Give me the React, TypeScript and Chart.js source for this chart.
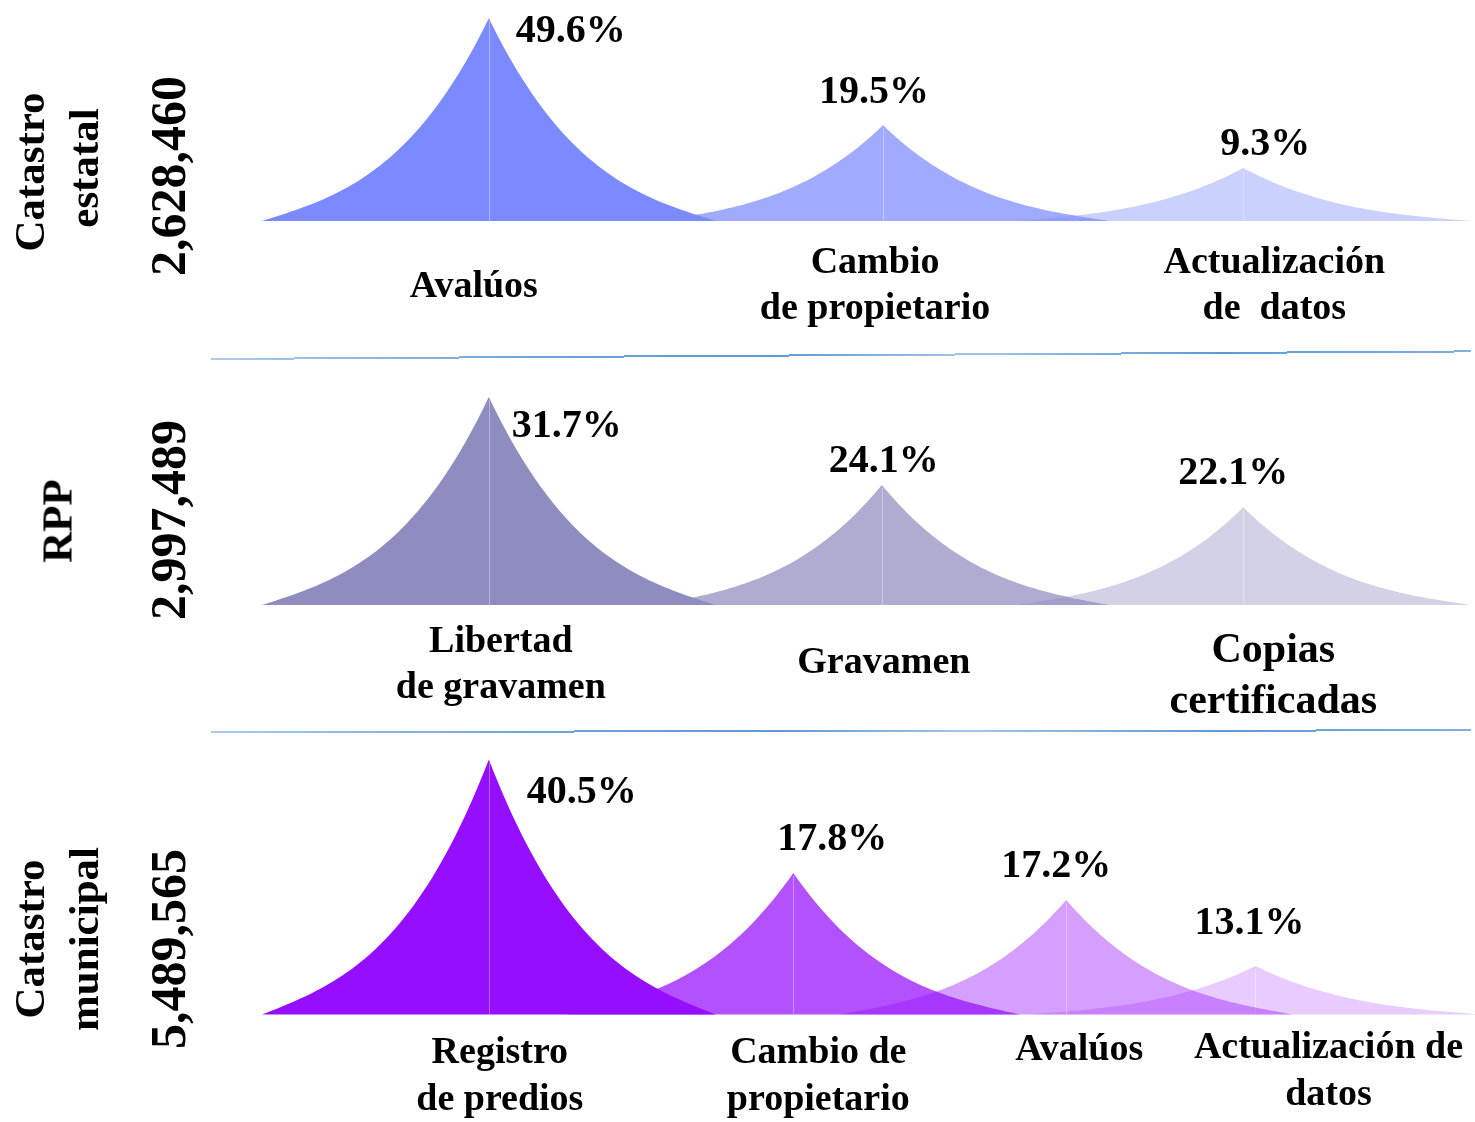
import React, { useEffect, useRef } from "react";
import { Chart, registerables } from "chart.js";

Chart.register(...registerables);

// ---------------- data ----------------
// Panel 1: Catastro estatal
const estatalTitle = ["Catastro", "estatal"];
const estatalTotal = "2,628,460";
const estatalCategories = [["Avalúos"], ["Cambio", "de propietario"], ["Actualización", "de  datos"]];
const estatalShares = [49.6, 19.5, 9.3];
const estatalHeights = [79.5, 37.6, 20.8]; // drawn peak heights (index, 100 = tallest peak)
const estatalPositions = [18.7, 51.2, 80.9]; // peak centres along the band (0–100)

// Panel 2: RPP
const rppTitle = ["RPP"];
const rppTotal = "2,997,489";
const rppCategories = [["Libertad", "de gravamen"], ["Gravamen"], ["Copias", "certificadas"]];
const rppShares = [31.7, 24.1, 22.1];
const rppHeights = [81.6, 47.1, 38.3];
const rppPositions = [18.7, 51.1, 80.9];

// Panel 3: Catastro municipal
const municipalTitle = ["Catastro", "municipal"];
const municipalTotal = "5,489,565";
const municipalCategories = [["Registro", "de predios"], ["Cambio de", "propietario"], ["Avalúos"], ["Actualización de", "datos"]];
const municipalShares = [40.5, 17.8, 17.2, 13.1];
const municipalHeights = [100, 55.5, 44.9, 19.0];
const municipalPositions = [18.7, 43.8, 66.3, 81.9];

// ---------------- layout / style ----------------
const FONT = '"Liberation Serif", "Times New Roman", serif';
const PAGE_W = 1475;
const PAGE_H = 1122;
const PLOT_LEFT = 262;
const Y_SPAN_PX = 255; // pixel height of 100 y-units
const PEAK_HALF_WIDTH = 18.7; // in x units
const PEAK_STEPS = 48; // smoothness of the concave peak sides

type PanelLayout = {
  top: number;
  height: number;
  baseline: number; // page y of baseline
  rgb: [number, number, number];
  alphas: number[];
  pctOffsets: [number, number][];
  pctSize: number;
  labelDx: number[];
  labelDy: number[];
  labelGap: number[];
  labelSize: number[];
};

const estatalLayout: PanelLayout = {
  top: -40,
  height: 385,
  baseline: 221,
  rgb: [123, 139, 255],
  alphas: [1, 0.72, 0.4],
  pctOffsets: [[82, 24], [-9, -22], [22, -13]],
  pctSize: 40,
  labelDx: [-15, -8, 31],
  labelDy: [76, 52, 52],
  labelGap: [46, 46, 46],
  labelSize: [38, 38, 38],
};

const rppLayout: PanelLayout = {
  top: 340,
  height: 390,
  baseline: 605,
  rgb: [143, 140, 191],
  alphas: [1, 0.72, 0.4],
  pctOffsets: [[78, 40], [2, -13], [-10, -23]],
  pctSize: 40,
  labelDx: [12, 2, 30],
  labelDy: [47, 68, 57],
  labelGap: [46, 46, 51],
  labelSize: [38, 38, 42],
};

const municipalLayout: PanelLayout = {
  top: 735,
  height: 387,
  baseline: 1014.5,
  rgb: [149, 14, 255],
  alphas: [1, 0.72, 0.4, 0.21],
  pctOffsets: [[93, 43], [39, -23], [-10, -23], [-6, -32]],
  pctSize: 40,
  labelDx: [11, 25, 13, 73],
  labelDy: [48, 48, 45, 43],
  labelGap: [47, 47, 47, 47],
  labelSize: [38, 38, 38, 38],
};

// profile of a peak side: f = 0 at the base edge, 1 at the tip
const sideProfile = (f: number) => 0.35 * f + 0.65 * f * f * f;

type PanelProps = {
  categories: string[][];
  shares: number[];
  heights: number[];
  positions: number[];
  layout: PanelLayout;
};

function PeakPanel({ categories, shares, heights, positions, layout }: PanelProps) {
  const ref = useRef<HTMLCanvasElement | null>(null);

  useEffect(() => {
    if (!ref.current) return;
    const baseLocal = layout.baseline - layout.top;
    const colors = layout.alphas.map(
      (a) => `rgba(${layout.rgb[0]},${layout.rgb[1]},${layout.rgb[2]},${a})`
    );

    const peakPlugin = {
      id: "peakShapes",
      beforeDatasetDraw(chart: any, args: any) {
        const ctx = chart.ctx as CanvasRenderingContext2D;
        const xs = chart.scales.x;
        const ds = chart.data.datasets[args.index];
        const els = args.meta.data;
        ctx.save();
        for (let i = els.length - 1; i >= 0; i--) {
          const el = els[i];
          const raw = ds.data[i];
          const x = el.x;
          const y = el.y;
          const b = el.base;
          const hw = xs.getPixelForValue(raw.x + PEAK_HALF_WIDTH) - x;
          const h = b - y;
          ctx.beginPath();
          ctx.moveTo(x - hw, b);
          for (let s = 1; s <= PEAK_STEPS; s++) {
            const f = s / PEAK_STEPS;
            ctx.lineTo(x - hw * (1 - f), b - h * sideProfile(f));
          }
          for (let s = PEAK_STEPS - 1; s >= 0; s--) {
            const f = s / PEAK_STEPS;
            ctx.lineTo(x + hw * (1 - f), b - h * sideProfile(f));
          }
          ctx.closePath();
          ctx.fillStyle = el.options.backgroundColor;
          ctx.fill();
          ctx.beginPath();
          ctx.moveTo(Math.round(x) + 0.5, y + 3);
          ctx.lineTo(Math.round(x) + 0.5, b);
          ctx.strokeStyle = "rgba(255,255,255,0.35)";
          ctx.lineWidth = 1;
          ctx.stroke();
        }
        ctx.restore();
        return false;
      },
      afterDraw(chart: any) {
        const ctx = chart.ctx as CanvasRenderingContext2D;
        const meta = chart.getDatasetMeta(0);
        ctx.save();
        ctx.fillStyle = "#000";
        ctx.textAlign = "center";
        ctx.textBaseline = "alphabetic";
        meta.data.forEach((el: any, i: number) => {
          ctx.font = `bold ${layout.pctSize}px ${FONT}`;
          const [dx, dy] = layout.pctOffsets[i];
          ctx.fillText(`${shares[i].toFixed(1)}%`, el.x + dx, el.y + dy);
          ctx.font = `bold ${layout.labelSize[i]}px ${FONT}`;
          categories[i].forEach((line, k) => {
            ctx.fillText(line, el.x + layout.labelDx[i], el.base + layout.labelDy[i] + k * layout.labelGap[i]);
          });
        });
        ctx.restore();
      },
    };

    const chart = new Chart(ref.current, {
      type: "bar",
      data: {
        datasets: [
          {
            data: positions.map((p, i) => ({ x: p, y: heights[i] })),
            backgroundColor: colors,
          },
        ],
      },
      options: {
        responsive: false,
        maintainAspectRatio: false,
        animation: false,
        events: [],
        layout: {
          padding: {
            left: PLOT_LEFT,
            right: 0,
            top: baseLocal - Y_SPAN_PX,
            bottom: layout.height - baseLocal,
          },
        },
        scales: {
          x: { type: "linear", min: 0, max: 100, offset: false, display: false },
          y: { type: "linear", min: 0, max: 100, display: false },
        },
        plugins: {
          legend: { display: false },
          tooltip: { enabled: false },
        },
      },
      plugins: [peakPlugin],
    } as any);
    return () => chart.destroy();
  }, [categories, shares, heights, positions, layout]);

  return (
    <canvas
      ref={ref}
      width={PAGE_W}
      height={layout.height}
      style={{ position: "absolute", left: 0, top: layout.top, width: PAGE_W, height: layout.height }}
    />
  );
}

function SideText({ text, cx, cy, size }: { text: string; cx: number; cy: number; size: number }) {
  return (
    <div
      style={{
        position: "absolute",
        left: cx,
        top: cy,
        transform: "translate(-50%, -50%) rotate(-90deg)",
        font: `bold ${size}px ${FONT}`,
        lineHeight: `${size}px`,
        whiteSpace: "pre",
        color: "#000",
      }}
    >
      {text}
    </div>
  );
}

function Separator({ x1, y1, x2, y2 }: { x1: number; y1: number; x2: number; y2: number }) {
  const len = Math.hypot(x2 - x1, y2 - y1);
  const ang = (Math.atan2(y2 - y1, x2 - x1) * 180) / Math.PI;
  return (
    <div
      style={{
        position: "absolute",
        left: x1,
        top: y1 - 1,
        width: len,
        height: 2,
        background: "linear-gradient(90deg, #a9cbec 0%, #6fa5da 25%, #5b9bd5 45%, #a3c6ea 60%, #5b9bd5 80%, #7fb0e0 100%)",
        transformOrigin: "0 50%",
        transform: `rotate(${ang}deg)`,
        zIndex: 2,
      }}
    />
  );
}

export default function App() {
  return (
    <div
      style={{
        position: "absolute",
        left: 0,
        top: 0,
        width: PAGE_W,
        height: PAGE_H,
        overflow: "hidden",
        background: "#fff",
      }}
    >
      <PeakPanel
        categories={estatalCategories}
        shares={estatalShares}
        heights={estatalHeights}
        positions={estatalPositions}
        layout={estatalLayout}
      />
      <PeakPanel
        categories={rppCategories}
        shares={rppShares}
        heights={rppHeights}
        positions={rppPositions}
        layout={rppLayout}
      />
      <PeakPanel
        categories={municipalCategories}
        shares={municipalShares}
        heights={municipalHeights}
        positions={municipalPositions}
        layout={municipalLayout}
      />

      <SideText text={estatalTitle[0]} cx={29} cy={172} size={43} />
      <SideText text={estatalTitle[1]} cx={83} cy={168} size={43} />
      <SideText text={estatalTotal} cx={168} cy={176} size={50} />

      <SideText text={rppTitle[0]} cx={57} cy={521} size={43} />
      <SideText text={rppTotal} cx={168} cy={520} size={50} />

      <SideText text={municipalTitle[0]} cx={29} cy={939} size={43} />
      <SideText text={municipalTitle[1]} cx={83} cy={939} size={43} />
      <SideText text={municipalTotal} cx={168} cy={949} size={50} />

      <Separator x1={211} y1={359.3} x2={1471} y2={351.7} />
      <Separator x1={211} y1={731.7} x2={1471} y2={730} />
    </div>
  );
}
